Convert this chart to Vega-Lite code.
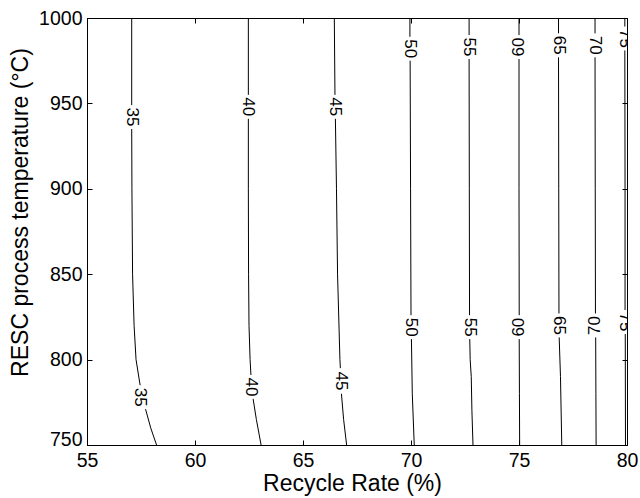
{
  "$schema": "https://vega.github.io/schema/vega-lite/v6.json",
  "width": 540,
  "height": 427,
  "autosize": "none",
  "padding": {"left": 87, "top": 18, "right": 13, "bottom": 53},
  "background": "white",
  "config": {
    "view": {"stroke": "black", "strokeWidth": 1},
    "font": "Liberation Sans",
    "axis": {
      "domainColor": "black",
      "tickColor": "black",
      "labelColor": "black",
      "titleColor": "black",
      "grid": false,
      "tickSize": -5,
      "labelFont": "Liberation Sans",
      "titleFont": "Liberation Sans",
      "labelFontSize": 19.5,
      "titleFontSize": 23,
      "titleFontWeight": "normal"
    }
  },
  "datasets": {
    "contours": [
      {"level": 35, "seg": "35a", "x": 57.07, "y": 1000}, {"level": 35, "seg": "35a", "x": 57.07, "y": 949},
      {"level": 35, "seg": "35b", "x": 57.07, "y": 935}, {"level": 35, "seg": "35b", "x": 57.08, "y": 900}, {"level": 35, "seg": "35b", "x": 57.11, "y": 850}, {"level": 35, "seg": "35b", "x": 57.18, "y": 820}, {"level": 35, "seg": "35b", "x": 57.27, "y": 800}, {"level": 35, "seg": "35b", "x": 57.46, "y": 785},
      {"level": 35, "seg": "35c", "x": 57.71, "y": 771}, {"level": 35, "seg": "35c", "x": 57.95, "y": 760}, {"level": 35, "seg": "35c", "x": 58.22, "y": 750},

      {"level": 40, "seg": "40a", "x": 62.47, "y": 1000}, {"level": 40, "seg": "40a", "x": 62.47, "y": 955},
      {"level": 40, "seg": "40b", "x": 62.47, "y": 941}, {"level": 40, "seg": "40b", "x": 62.47, "y": 900}, {"level": 40, "seg": "40b", "x": 62.48, "y": 850}, {"level": 40, "seg": "40b", "x": 62.5, "y": 820}, {"level": 40, "seg": "40b", "x": 62.55, "y": 800}, {"level": 40, "seg": "40b", "x": 62.59, "y": 791},
      {"level": 40, "seg": "40c", "x": 62.69, "y": 777}, {"level": 40, "seg": "40c", "x": 62.84, "y": 765}, {"level": 40, "seg": "40c", "x": 63.06, "y": 750},

      {"level": 45, "seg": "45a", "x": 66.45, "y": 1000}, {"level": 45, "seg": "45a", "x": 66.48, "y": 955},
      {"level": 45, "seg": "45b", "x": 66.5, "y": 941}, {"level": 45, "seg": "45b", "x": 66.55, "y": 900}, {"level": 45, "seg": "45b", "x": 66.6, "y": 850}, {"level": 45, "seg": "45b", "x": 66.71, "y": 800}, {"level": 45, "seg": "45b", "x": 66.73, "y": 795},
      {"level": 45, "seg": "45c", "x": 66.78, "y": 780}, {"level": 45, "seg": "45c", "x": 66.88, "y": 765}, {"level": 45, "seg": "45c", "x": 67.02, "y": 750},

      {"level": 50, "seg": "50a", "x": 69.95, "y": 1000}, {"level": 50, "seg": "50a", "x": 69.95, "y": 989},
      {"level": 50, "seg": "50b", "x": 69.96, "y": 975}, {"level": 50, "seg": "50b", "x": 69.98, "y": 900}, {"level": 50, "seg": "50b", "x": 70.0, "y": 826},
      {"level": 50, "seg": "50c", "x": 70.02, "y": 812}, {"level": 50, "seg": "50c", "x": 70.06, "y": 780}, {"level": 50, "seg": "50c", "x": 70.15, "y": 750},

      {"level": 55, "seg": "55a", "x": 72.69, "y": 1000}, {"level": 55, "seg": "55a", "x": 72.69, "y": 990},
      {"level": 55, "seg": "55b", "x": 72.69, "y": 976}, {"level": 55, "seg": "55b", "x": 72.7, "y": 900}, {"level": 55, "seg": "55b", "x": 72.71, "y": 826},
      {"level": 55, "seg": "55c", "x": 72.72, "y": 812}, {"level": 55, "seg": "55c", "x": 72.74, "y": 800}, {"level": 55, "seg": "55c", "x": 72.79, "y": 790}, {"level": 55, "seg": "55c", "x": 72.82, "y": 770}, {"level": 55, "seg": "55c", "x": 72.87, "y": 750},

      {"level": 60, "seg": "60a", "x": 75.0, "y": 1000}, {"level": 60, "seg": "60a", "x": 75.0, "y": 990},
      {"level": 60, "seg": "60b", "x": 75.0, "y": 976}, {"level": 60, "seg": "60b", "x": 75.0, "y": 900}, {"level": 60, "seg": "60b", "x": 75.01, "y": 826},
      {"level": 60, "seg": "60c", "x": 75.01, "y": 812}, {"level": 60, "seg": "60c", "x": 75.02, "y": 780}, {"level": 60, "seg": "60c", "x": 75.03, "y": 750},

      {"level": 65, "seg": "65a", "x": 76.83, "y": 1000}, {"level": 65, "seg": "65a", "x": 76.83, "y": 991},
      {"level": 65, "seg": "65b", "x": 76.83, "y": 977}, {"level": 65, "seg": "65b", "x": 76.84, "y": 900}, {"level": 65, "seg": "65b", "x": 76.85, "y": 827},
      {"level": 65, "seg": "65c", "x": 76.86, "y": 813}, {"level": 65, "seg": "65c", "x": 76.92, "y": 790}, {"level": 65, "seg": "65c", "x": 76.98, "y": 750},

      {"level": 70, "seg": "70a", "x": 78.52, "y": 1000}, {"level": 70, "seg": "70a", "x": 78.52, "y": 991},
      {"level": 70, "seg": "70b", "x": 78.52, "y": 977}, {"level": 70, "seg": "70b", "x": 78.53, "y": 900}, {"level": 70, "seg": "70b", "x": 78.54, "y": 827},
      {"level": 70, "seg": "70c", "x": 78.55, "y": 813}, {"level": 70, "seg": "70c", "x": 78.56, "y": 780}, {"level": 70, "seg": "70c", "x": 78.57, "y": 750},

      {"level": 75, "seg": "75a", "x": 79.9, "y": 1000}, {"level": 75, "seg": "75a", "x": 79.9, "y": 995},
      {"level": 75, "seg": "75b", "x": 79.9, "y": 981}, {"level": 75, "seg": "75b", "x": 79.91, "y": 900}, {"level": 75, "seg": "75b", "x": 79.91, "y": 829},
      {"level": 75, "seg": "75c", "x": 79.92, "y": 815}, {"level": 75, "seg": "75c", "x": 79.93, "y": 750}
    ],
    "labels": [
      {"level": "35", "x": 57.07, "y": 942, "dir": "down"},
      {"level": "40", "x": 62.47, "y": 948, "dir": "down"},
      {"level": "45", "x": 66.49, "y": 948, "dir": "down"},
      {"level": "50", "x": 69.95, "y": 982, "dir": "down"},
      {"level": "55", "x": 72.69, "y": 983, "dir": "down"},
      {"level": "60", "x": 75.0, "y": 983, "dir": "up"},
      {"level": "65", "x": 76.83, "y": 984, "dir": "down"},
      {"level": "70", "x": 78.52, "y": 984, "dir": "down"},
      {"level": "75", "x": 79.9, "y": 988, "dir": "down"},
      {"level": "35", "x": 57.45, "y": 778, "dir": "down"},
      {"level": "40", "x": 62.6, "y": 784, "dir": "down"},
      {"level": "45", "x": 66.74, "y": 787.5, "dir": "down"},
      {"level": "50", "x": 70.01, "y": 819, "dir": "down"},
      {"level": "55", "x": 72.71, "y": 819, "dir": "down"},
      {"level": "60", "x": 75.01, "y": 819, "dir": "up"},
      {"level": "65", "x": 76.85, "y": 820, "dir": "down"},
      {"level": "70", "x": 78.54, "y": 820, "dir": "up"},
      {"level": "75", "x": 79.91, "y": 822, "dir": "down"}
    ]
  },
  "resolve": {"axis": {"x": "independent", "y": "independent"}},
  "layer": [
    {
      "data": {"name": "contours"},
      "mark": {"type": "line", "color": "black", "strokeWidth": 1, "clip": true},
      "encoding": {
        "x": {
          "field": "x", "type": "quantitative",
          "scale": {"domain": [55, 80], "nice": false, "zero": false},
          "axis": {"values": [55, 60, 65, 70, 75, 80], "title": "Recycle Rate (%)", "labelPadding": 11, "titlePadding": 3, "labelFlush": false, "titleX": 265}
        },
        "y": {
          "field": "y", "type": "quantitative",
          "scale": {"domain": [750, 1000], "nice": false, "zero": false},
          "axis": {
            "values": [750, 800, 850, 900, 950, 1000], "format": "d",
            "title": "RESC process temperature (°C)", "labelPadding": 10, "titlePadding": 6, "labelFlush": false, "titleY": 194,
            "labelBaseline": {"condition": {"test": "datum.value === 750", "value": "alphabetic"}, "value": "middle"}
          }
        },
        "detail": {"field": "seg", "type": "nominal"},
        "order": {"field": "y", "type": "quantitative"}
      }
    },
    {
      "data": {"name": "labels"},
      "transform": [{"filter": "datum.dir === 'down'"}],
      "mark": {"type": "text", "angle": 90, "fontSize": 17, "font": "Liberation Sans", "color": "black", "align": "center", "baseline": "middle", "clip": true},
      "encoding": {
        "x": {"field": "x", "type": "quantitative", "axis": {"orient": "top", "labels": false, "title": null, "values": [55, 60, 65, 70, 75, 80]}},
        "y": {"field": "y", "type": "quantitative", "axis": {"orient": "right", "labels": false, "title": null, "values": [750, 800, 850, 900, 950, 1000]}},
        "text": {"field": "level", "type": "nominal"}
      }
    },
    {
      "data": {"name": "labels"},
      "transform": [{"filter": "datum.dir === 'up'"}],
      "mark": {"type": "text", "angle": 270, "fontSize": 17, "font": "Liberation Sans", "color": "black", "align": "center", "baseline": "middle", "clip": true},
      "encoding": {
        "x": {"field": "x", "type": "quantitative", "axis": null},
        "y": {"field": "y", "type": "quantitative", "axis": null},
        "text": {"field": "level", "type": "nominal"}
      }
    }
  ]
}
